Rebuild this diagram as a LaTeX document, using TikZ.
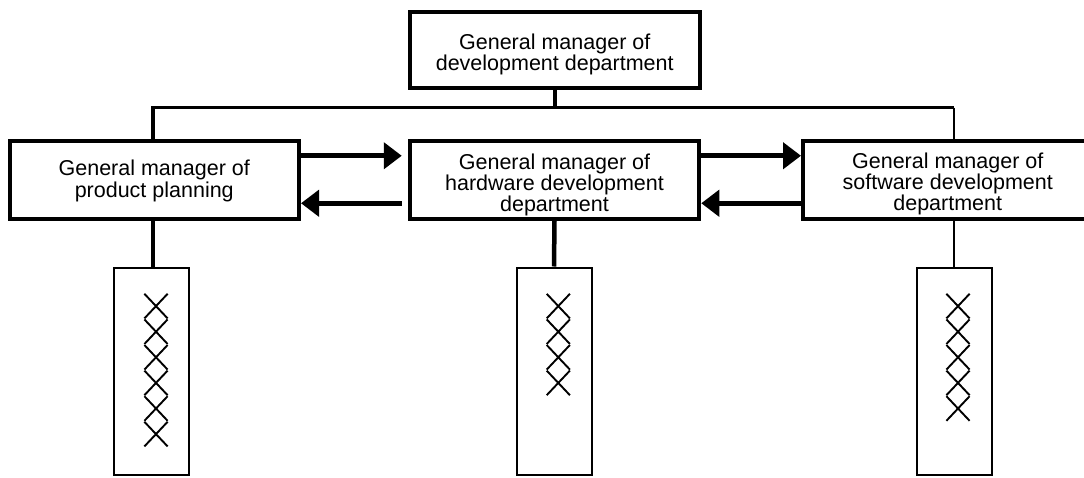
\documentclass[tikz,border=0pt]{standalone}
\usepackage{fontspec}
\setmainfont{Liberation Sans}
\usetikzlibrary{arrows.meta}

\def\boxwd{289.5}   % width of a manager box
\def\boxht{77.5}    % height of a manager box
\def\markwd{11.6}   % half width of one cross
\def\markht{24.6}   % height of one cross

\tikzset{
  mgr/.style  = {draw, line width=4pt, minimum width=\boxwd pt,
                 minimum height=\boxht pt, inner sep=0pt, align=center,
                 font=\fontsize{21.5pt}{20pt}\selectfont},
  tall/.style = {text height=#1, text depth=0pt},
  staff/.style = {draw, line width=2pt, minimum width=75pt,
                  minimum height=207.5pt, inner sep=0pt},
  flow/.style = {line width=5pt, -{Triangle[length=18pt,width=26pt]}},
  xmark/.style = {line width=1.9pt}
}

\begin{document}
\begin{tikzpicture}[x=1pt, y=-1pt]
    \useasboundingbox (0,0) rectangle (1084,477);
    \clip (0,0) rectangle (1084,477);

    % Manager boxes
    \node[mgr, tall=41pt, minimum height=76pt] (top) at (554.75,50)
      {General manager of\\development department};
    \node[mgr, tall=34.5pt] (plan) at (154.25,179.75)
      {General manager of\\product planning};
    \node[mgr, tall=63pt] (hard) at (554.5,179.75)
      {General manager of\\hardware development\\department};
    \node[mgr, tall=61pt] (soft) at (947.75,179.75)
      {General manager of\\software development\\department};

    % Staff boxes
    \node[staff] (planstaff) at (151.5,371.25) {};
    \node[staff] (hardstaff) at (554,371.25) {};
    \node[staff] (softstaff) at (954,371.25) {};

    % Bus from the top box
    \coordinate (busL) at (153,107.5);
    \coordinate (busR) at (954,107.5);
    \draw[line width=4.5pt] (top.south) -- (top.south |- busL);
    \draw[line width=3.5pt] (busL |- plan.north) -- (busL) -- (top.south |- busL);
    \draw[line width=2.6pt] (top.south |- busL) -- (busR);
    \draw[line width=2pt] (busR) -- (busR |- soft.north);

    % Drops to the staff boxes
    \draw[line width=3.5pt] (busL |- plan.south) -- (busL |- planstaff.north);
    \draw[line width=4.5pt] (hard.south) -- (hardstaff.north);
    \draw[line width=2pt] (busR |- soft.south) -- (softstaff.north);

    % Arrows between the managers
    \draw[flow, shorten >=6pt] ([yshift=24pt]plan.east) -- ([yshift=24pt]hard.west);
    \draw[flow, shorten <=6pt] ([yshift=-23.5pt]hard.west) -- ([yshift=-23.5pt]plan.east);
    \draw[flow] ([yshift=24pt]hard.east) -- ([yshift=24pt]soft.west);
    \draw[flow] ([yshift=-23.5pt]soft.west) -- ([yshift=-23.5pt]hard.east);

    % Crosses in the staff boxes
    \foreach \cx/\n in {156/6, 558.3/4, 958/5} {
      \foreach \i in {1,...,\n} {
        \pgfmathsetmacro\ya{293.8+(\i-1)*25.6}  % top of this cross
        \draw[xmark] (\cx-\markwd,\ya) -- (\cx+\markwd,\ya+\markht)
                     (\cx+\markwd,\ya) -- (\cx-\markwd,\ya+\markht);
      }
    };
\end{tikzpicture}
\end{document}
